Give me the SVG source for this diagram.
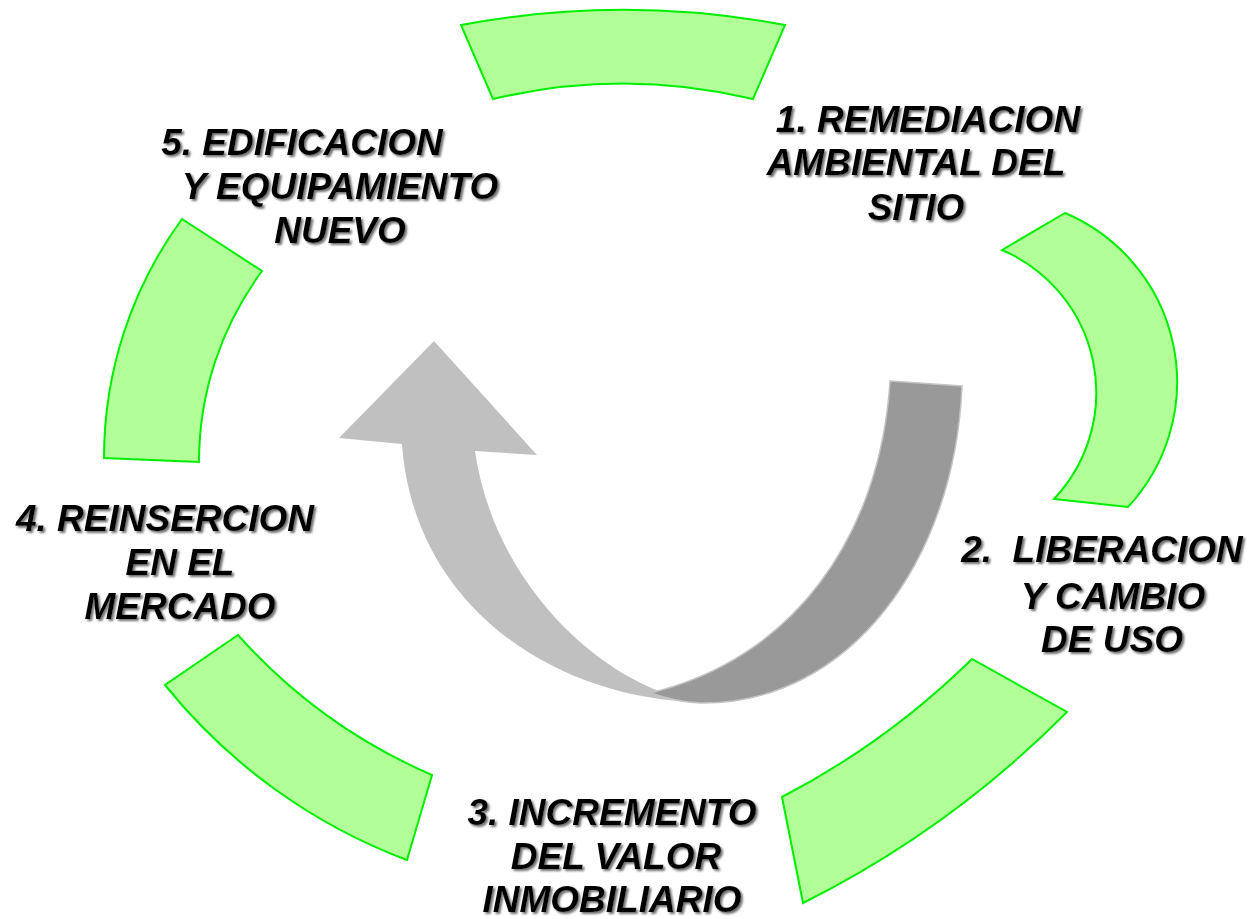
<svg xmlns="http://www.w3.org/2000/svg" width="1253" height="919" viewBox="0 0 1253 919">
  <defs>
    <filter id="shadow" x="-10%" y="-30%" width="120%" height="160%">
      <feDropShadow dx="2" dy="2" stdDeviation="0.8" flood-color="#707070" flood-opacity="1"/>
    </filter>
  </defs>
  <style>
    .seg { fill: #b2ff99; stroke: #00ee00; stroke-width: 2; stroke-linejoin: miter; }
    .lbl { font-family: "Liberation Sans", Arial, sans-serif; font-weight: bold; font-style: italic; font-size: 37px; fill: #000; text-anchor: middle; filter: url(#shadow); }
    .light { fill: #c0c0c0; }
    .dark { fill: #999999; stroke: #c4c4c4; stroke-width: 1.5; }
  </style>
  <rect width="1253" height="919" fill="#ffffff"/>

  <g id="connectors">
    <path class="light" d="M 402,444 L 339,438 L 434,341 L 537,455 L 475,451 C 495,590 610,690 700,702 C 560,700 414,610 402,444 Z"/>
    <path class="dark" d="M 890,381 L 962,386 C 955,560 850,705 700,703 C 680,702 665,698 650,693 C 790,660 880,540 890,381 Z"/>
  </g>

  <g id="segments">
    <g id="seg-top"><path class="seg" d="M 461,25 A 880,880 0 0 1 785,25 L 753,99 A 560,560 0 0 0 493,99 Z"/></g>
    <g id="seg-right"><path class="seg" d="M 1065,213 A 183.5,183.5 0 0 1 1128,507 L 1054,499 A 155,155 0 0 0 1002,250 Z"/></g>
    <g id="seg-bottom-right"><path class="seg" d="M 1067,712 A 1000,1000 0 0 1 803,903 L 782,797 A 790,790 0 0 0 972,659 Z"/></g>
    <g id="seg-bottom-left"><path class="seg" d="M 407,860 A 567,567 0 0 1 165,685 L 238,635 A 556,556 0 0 0 432,775 Z"/></g>
    <g id="seg-left"><path class="seg" d="M 104,458 A 405,405 0 0 1 182,219 L 262,271 A 321,321 0 0 0 199,462 Z"/></g>
  </g>

  <g id="node1">
    <text class="lbl" x="928" y="132">1. REMEDIACION</text>
    <text class="lbl" x="916" y="175">AMBIENTAL DEL</text>
    <text class="lbl" x="916" y="220">SITIO</text>
  </g>
  <g id="node2">
    <text class="lbl" x="1102" y="562" xml:space="preserve">2.  LIBERACION</text>
    <text class="lbl" x="1113" y="609">Y CAMBIO</text>
    <text class="lbl" x="1112" y="652">DE USO</text>
  </g>
  <g id="node3">
    <text class="lbl" x="612" y="825">3. INCREMENTO</text>
    <text class="lbl" x="616" y="869">DEL VALOR</text>
    <text class="lbl" x="612" y="912">INMOBILIARIO</text>
  </g>
  <g id="node4">
    <text class="lbl" x="165" y="531">4. REINSERCION</text>
    <text class="lbl" x="180" y="575">EN EL</text>
    <text class="lbl" x="180" y="619">MERCADO</text>
  </g>
  <g id="node5">
    <text class="lbl" x="302" y="155">5. EDIFICACION</text>
    <text class="lbl" x="340" y="199">Y EQUIPAMIENTO</text>
    <text class="lbl" x="340" y="243">NUEVO</text>
  </g>
</svg>
